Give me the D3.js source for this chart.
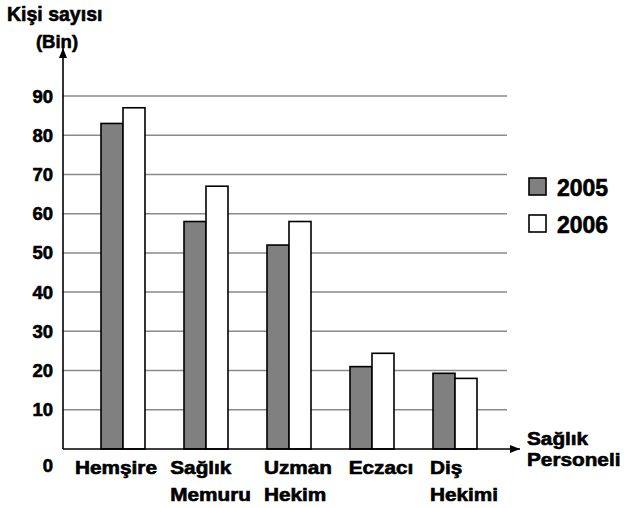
<!DOCTYPE html>
<html>
<head>
<meta charset="utf-8">
<script src="https://cdn.jsdelivr.net/npm/d3@7"></script>
<style>
  body { margin: 0; background: #fff; }
  text { font-family: "Liberation Sans", Arial, sans-serif; font-weight: bold; fill: #000; stroke: #000; stroke-width: 0.6px; }
</style>
</head>
<body>
<div id="chart"></div>
<script>
// data
var categories = [["Hemşire"], ["Sağlık", "Memuru"], ["Uzman", "Hekim"], ["Eczacı"], ["Diş", "Hekimi"]];
var years = ["2005", "2006"];
var values2005 = [83, 58, 52, 21, 19.3];
var values2006 = [87, 67, 58, 24.4, 18];
var yTicks = [10, 20, 30, 40, 50, 60, 70, 80, 90];

var svgWidth = 624, svgHeight = 508;
var axisX = 63, axisY = 449;

var svg = d3.select("#chart").append("svg").attr("width", svgWidth).attr("height", svgHeight);

var x = d3.scaleBand().domain(d3.range(categories.length)).range([81.5, 496.5]).paddingInner(0.47).paddingOuter(0.235);
var xInner = d3.scaleBand().domain(years).range([0, x.bandwidth()]);
var y = d3.scaleLinear().domain([0, 90]).range([axisY, 96]);

// gridlines
svg.append("g").selectAll("line").data(yTicks).enter().append("line")
  .attr("x1", axisX).attr("x2", 507)
  .attr("y1", d => y(d)).attr("y2", d => y(d))
  .attr("stroke", "#8a8a8a").attr("stroke-width", 1.5);

// tick labels
svg.append("g").selectAll("text").data(yTicks).enter().append("text")
  .attr("x", 53).attr("y", d => y(d) + 6.5)
  .attr("text-anchor", "end").style("font-size", "18.5px")
  .text(d => d);
svg.append("text").attr("x", 53).attr("y", 472).attr("text-anchor", "end").style("font-size", "18.5px").text("0");

// bars
var series = [values2005, values2006];
var fills = ["#808080", "#ffffff"];
series.forEach(function(vals, s) {
  svg.append("g").selectAll("rect").data(vals).enter().append("rect")
    .attr("x", (d, i) => x(i) + xInner(years[s]))
    .attr("width", xInner.bandwidth())
    .attr("y", d => y(d))
    .attr("height", d => axisY - y(d))
    .attr("fill", fills[s])
    .attr("stroke", "#000").attr("stroke-width", 1.6);
});

// axes with arrows
svg.append("defs").append("marker")
  .attr("id", "arrow").attr("viewBox", "0 0 10 10").attr("refX", 10).attr("refY", 5)
  .attr("markerWidth", 10).attr("markerHeight", 10).attr("markerUnits", "userSpaceOnUse")
  .attr("orient", "auto")
  .append("path").attr("d", "M0,1 L10,5 L0,9 Z").attr("fill", "#000");

svg.append("line").attr("x1", axisX).attr("x2", axisX).attr("y1", axisY).attr("y2", 48)
  .attr("stroke", "#000").attr("stroke-width", 1.6).attr("marker-end", "url(#arrow)");
svg.append("line").attr("x1", axisX).attr("x2", 520).attr("y1", axisY).attr("y2", axisY)
  .attr("stroke", "#000").attr("stroke-width", 1.6).attr("marker-end", "url(#arrow)");

// category labels: left aligned blocks, a bit wide, pushed apart if they collide
var stretch = 1.18;
var blocks = categories.map(function(lines, i) {
  var g = svg.append("g");
  lines.forEach(function(t, k) {
    g.append("text").attr("transform", `translate(0,${474 + k * 27}) scale(${stretch},1)`)
      .style("font-size", "17.6px").text(t);
  });
  var w = g.node().getBBox().width;
  return {g: g, w: w, left: x(i) + x.bandwidth() / 2 + 9 - w / 2};
});
for (var i = blocks.length - 2; i >= 0; i--) {
  var maxRight = blocks[i + 1].left - 13;
  if (blocks[i].left + blocks[i].w > maxRight) blocks[i].left = maxRight - blocks[i].w;
}
blocks.forEach(b => b.g.attr("transform", `translate(${b.left},0)`));

// axis titles
svg.append("text").attr("x", 7).attr("y", 21).style("font-size", "19.5px").text("Kişi sayısı");
svg.append("text").attr("x", 57).attr("y", 48).attr("text-anchor", "middle").style("font-size", "18.5px").text("(Bin)");

svg.append("text").attr("transform", `translate(527,445) scale(${stretch},1)`).style("font-size", "17.6px").text("Sağlık");
svg.append("text").attr("transform", `translate(527,466) scale(${stretch},1)`).style("font-size", "17.6px").text("Personeli");

// legend
var legend = svg.append("g").selectAll("g").data(years).enter().append("g")
  .attr("transform", (d, i) => `translate(529,${178 + i * 37})`);
legend.append("rect").attr("width", 17).attr("height", 17)
  .attr("fill", (d, i) => fills[i]).attr("stroke", "#000").attr("stroke-width", 1.6);
legend.append("text").attr("x", 28).attr("y", 18).style("font-size", "23px").text(d => d);
</script>
</body>
</html>
